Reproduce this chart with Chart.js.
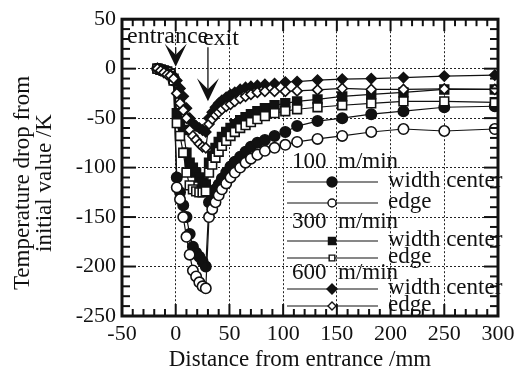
<!DOCTYPE html>
<html lang="en">
<head>
<meta charset="UTF-8">
<title>Temperature drop from initial value</title>
<script src="https://cdn.jsdelivr.net/npm/chart.js"></script>
<style>
  html, body { margin: 0; padding: 0; background: #fff; }
  #chart { display: block; }
</style>
</head>
<body>
<canvas id="chart" width="521" height="372"></canvas>
<script>
const serif = "'Liberation Serif', 'Times New Roman', serif";
const ink = '#111';

// distance from entrance (mm), shared by all traces
const distance = [-17, -14, -11, -8, -5, -2, 1, 4, 7, 10, 13, 16, 19, 22, 25, 28,
  31, 34, 37, 40, 43, 47, 51, 55, 60, 65, 70, 76, 83, 92, 102, 113,
  132, 155, 182, 212, 250, 297];

// temperature drop (K)
const center100 = [0, -1, -2, -3, -5, -10, -110, -125, -138, -150, -167, -180, -186, -190, -195, -200,
  -135, -128, -122, -117, -111, -105, -99, -94, -89, -84, -79, -75, -72, -68, -64, -58,
  -53, -50, -46, -43, -39, -38];
const edge100 = [0, -1, -2, -3, -5, -12, -120, -132, -150, -170, -188, -204, -210, -216, -220, -222,
  -150, -142, -135, -128, -122, -116, -110, -105, -100, -95, -91, -87, -83, -80, -77, -74,
  -71, -68, -64, -61, -63, -61];
const center300 = [0, -1, -2, -3, -5, -10, -45, -55, -62, -85, -95, -100, -105, -110, -115, -117,
  -95, -88, -80, -74, -69, -64, -60, -56, -52, -49, -46, -43, -40, -37, -35, -33,
  -31, -28, -26, -24, -21, -21];
const edge300 = [0, -1, -2, -3, -5, -12, -55, -68, -85, -105, -118, -122, -124, -125, -125, -124,
  -105, -97, -90, -84, -78, -73, -68, -64, -60, -57, -54, -51, -48, -45, -43, -41,
  -39, -37, -35, -33, -33, -34];
const center600 = [0, -1, -3, -4, -6, -8, -12, -20, -28, -40, -50, -55, -58, -60, -62, -64,
  -50, -44, -39, -35, -32, -29, -26, -24, -21, -19, -18, -17, -16, -15, -13.5, -13,
  -11.5, -10.5, -10, -9, -7.5, -6.5];
const edge600 = [0, -2, -4, -6, -7, -10, -25, -35, -42, -50, -62, -68, -72, -76, -79, -80,
  -56, -51, -47, -44, -41, -38, -36, -33, -30, -28, -26, -24, -23, -23, -23, -22.5,
  -21.5, -20, -21, -21, -20.5, -21];

const xTicks = [-50, 0, 50, 100, 150, 200, 250, 300];
const yTicks = [50, 0, -50, -100, -150, -200, -250];

// roll bite markers: label, distance, arrow tip (K)
const markNames = ['entrance', 'exit'];
const markAt = [0, 30];
const markTip = [2, -33];

const speeds = [100, 300, 600];

const traces = [
  { speed: 600, label: 'edge',         values: edge600,   shape: 'rectRot', open: true,  r: 5 },
  { speed: 600, label: 'width center', values: center600, shape: 'rectRot', open: false, r: 5 },
  { speed: 300, label: 'edge',         values: edge300,   shape: 'rect',    open: true,  r: 6.2 },
  { speed: 300, label: 'width center', values: center300, shape: 'rect',    open: false, r: 6.2 },
  { speed: 100, label: 'edge',         values: edge100,   shape: 'circle',  open: true,  r: 5.2 },
  { speed: 100, label: 'width center', values: center100, shape: 'circle',  open: false, r: 5.2 }
];

const datasets = traces.map(t => ({
  label: t.speed + ' m/min ' + t.label,
  data: distance.map((d, i) => ({ x: d, y: t.values[i] })),
  showLine: true,
  borderColor: ink,
  borderWidth: 1.2,
  pointStyle: t.shape,
  pointRadius: t.r,
  pointBorderWidth: 1.6,
  pointBorderColor: ink,
  pointBackgroundColor: t.open ? '#fff' : ink,
  speed: t.speed,
  caption: t.label,
  open: t.open
}));

function marker(ctx, shape, x, y, r, open) {
  ctx.save();
  ctx.beginPath();
  if (shape === 'circle') {
    ctx.arc(x, y, r, 0, Math.PI * 2);
  } else if (shape === 'rect') {
    const h = r * Math.SQRT1_2;
    ctx.rect(x - h, y - h, h * 2, h * 2);
  } else {
    ctx.moveTo(x, y - r); ctx.lineTo(x + r, y); ctx.lineTo(x, y + r); ctx.lineTo(x - r, y);
    ctx.closePath();
  }
  ctx.fillStyle = open ? '#fff' : ink;
  ctx.fill();
  ctx.stroke();
  ctx.restore();
}

function seg(ctx, x1, y1, x2, y2) {
  ctx.beginPath(); ctx.moveTo(x1, y1); ctx.lineTo(x2, y2); ctx.stroke();
}

const decorations = {
  id: 'decorations',
  afterDatasetsDraw(chart) {
    const { ctx, chartArea: a, scales: { x, y } } = chart;
    ctx.save();
    ctx.strokeStyle = ink;
    ctx.fillStyle = ink;

    // inner tick marks on all four sides
    ctx.lineWidth = 2;
    for (let v = -50; v <= 300; v += 10) {
      const px = x.getPixelForValue(v);
      const len = v % 50 === 0 ? 12 : 7;
      seg(ctx, px, a.bottom, px, a.bottom - len);
      seg(ctx, px, a.top, px, a.top + len);
    }
    for (let v = -250; v <= 50; v += 10) {
      const py = y.getPixelForValue(v);
      const len = v % 50 === 0 ? 14 : 8;
      seg(ctx, a.left, py, a.left + len, py);
      seg(ctx, a.right, py, a.right - len, py);
    }
    ctx.lineWidth = 3;
    ctx.strokeRect(a.left, a.top, a.right - a.left, a.bottom - a.top);

    // entrance / exit arrows
    ctx.font = '24px ' + serif;
    ctx.textBaseline = 'alphabetic';
    ctx.textAlign = 'left';
    ctx.fillText(markNames[0], a.left + 5, a.top + 24);
    ctx.fillText(markNames[1], x.getPixelForValue(markAt[1]) - 5, a.top + 26);
    markAt.forEach((d, i) => {
      const px = x.getPixelForValue(d);
      const tip = y.getPixelForValue(markTip[i]);
      const top = a.top + 28;
      ctx.lineWidth = 1.3;
      seg(ctx, px, top, px, tip - 12);
      ctx.beginPath();
      ctx.moveTo(px, tip);
      ctx.lineTo(px - 11, tip - 23);
      ctx.lineTo(px, tip - 12);
      ctx.lineTo(px + 11, tip - 23);
      ctx.closePath();
      ctx.fill();
    });
    ctx.restore();
  },
  afterDraw(chart) {
    const { ctx } = chart;
    ctx.save();
    ctx.fillStyle = ink;
    ctx.strokeStyle = ink;
    ctx.font = '23px ' + serif;

    // axis titles
    ctx.textAlign = 'center';
    ctx.textBaseline = 'alphabetic';
    ctx.fillText('Distance from entrance /mm', 300, 366);
    ctx.save();
    ctx.translate(29, 183);
    ctx.rotate(-Math.PI / 2);
    ctx.fillText('Temperature drop from', 0, 0);
    ctx.fillText('initial value /K', 0, 22);
    ctx.restore();

    // legend grouped by speed
    const rowY = [162, 181, 202, 222, 240, 257, 273, 288, 305];
    let row = 0;
    ctx.textBaseline = 'middle';
    ctx.textAlign = 'left';
    speeds.forEach(sp => {
      ctx.fillText(sp + '  m/min', 292, rowY[row++]);
      ['width center', 'edge'].forEach(cap => {
        const ds = chart.data.datasets.find(d => d.speed === sp && d.caption === cap);
        const ry = rowY[row++];
        ctx.lineWidth = 1.2;
        seg(ctx, 287, ry + 1, 378, ry + 1);
        ctx.lineWidth = 1.4;
        marker(ctx, ds.pointStyle, 332, ry + 1, ds.open ? 4 : 5, ds.open);
        ctx.fillText(cap, 388, ry);
      });
    });
    ctx.restore();
  }
};

const tickFont = { family: serif, size: 22 };

new Chart(document.getElementById('chart'), {
  type: 'scatter',
  data: { datasets },
  options: {
    responsive: false,
    devicePixelRatio: 1,
    animation: false,
    layout: { padding: { top: 16, right: 23, left: 0, bottom: 0 } },
    plugins: { legend: { display: false }, tooltip: { enabled: false } },
    scales: {
      x: {
        type: 'linear', min: -50, max: 300,
        afterBuildTicks: s => { s.ticks = xTicks.map(v => ({ value: v })); },
        afterFit: s => { s.height = 56; },
        ticks: { font: tickFont, color: ink, padding: 5, maxRotation: 0, autoSkip: false },
        grid: { color: '#222', lineWidth: 1, drawTicks: false },
        border: { display: false, dash: [2, 2] }
      },
      y: {
        type: 'linear', min: -250, max: 50,
        afterBuildTicks: s => { s.ticks = yTicks.map(v => ({ value: v })); },
        afterFit: s => { s.width = 122; },
        ticks: { font: tickFont, color: ink, padding: 6, autoSkip: false },
        grid: { color: '#222', lineWidth: 1, drawTicks: false },
        border: { display: false, dash: [2, 2] }
      }
    }
  },
  plugins: [decorations]
});
</script>
</body>
</html>
